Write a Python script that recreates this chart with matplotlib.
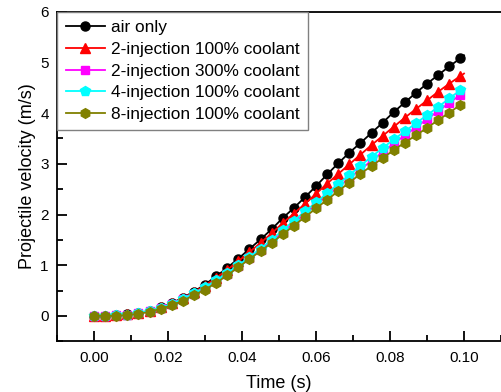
import matplotlib
matplotlib.use("Agg")
import matplotlib.pyplot as plt
from matplotlib.ticker import MultipleLocator, FormatStrFormatter

plt.rcParams['font.family'] = ['Liberation Sans', 'DejaVu Sans']

# time samples (s); markers on every sample except the last one
t = [0.000, 0.003, 0.006, 0.009, 0.012, 0.015, 0.018, 0.021, 0.024, 0.027,
     0.030, 0.033, 0.036, 0.039, 0.042, 0.045, 0.048, 0.051, 0.054, 0.057,
     0.060, 0.063, 0.066, 0.069, 0.072, 0.075, 0.078, 0.081, 0.084, 0.087,
     0.090, 0.093, 0.096, 0.099, 0.100]

v_air = [0.00, 0.00, 0.01, 0.03, 0.06, 0.10, 0.17, 0.25, 0.36, 0.48,
         0.62, 0.78, 0.95, 1.13, 1.32, 1.51, 1.71, 1.93, 2.13, 2.34,
         2.56, 2.79, 3.01, 3.22, 3.41, 3.61, 3.81, 4.02, 4.21, 4.40,
         4.58, 4.75, 4.92, 5.08, 5.14]
v_2inj_100 = [0.00, 0.00, 0.01, 0.03, 0.06, 0.10, 0.17, 0.25, 0.35, 0.47,
              0.60, 0.75, 0.91, 1.08, 1.26, 1.44, 1.63, 1.83, 2.02, 2.21,
              2.41, 2.61, 2.80, 2.99, 3.18, 3.37, 3.55, 3.73, 3.91, 4.08,
              4.25, 4.42, 4.58, 4.73, 4.78]
v_2inj_300 = [0.00, 0.00, 0.01, 0.02, 0.05, 0.10, 0.16, 0.24, 0.33, 0.44,
              0.56, 0.69, 0.83, 0.98, 1.14, 1.30, 1.47, 1.65, 1.83, 2.01,
              2.19, 2.37, 2.54, 2.72, 2.89, 3.06, 3.23, 3.40, 3.56, 3.72,
              3.88, 4.04, 4.20, 4.36, 4.41]
v_4inj_100 = [0.00, 0.00, 0.01, 0.02, 0.05, 0.10, 0.16, 0.24, 0.34, 0.45,
              0.57, 0.70, 0.85, 1.00, 1.16, 1.33, 1.50, 1.69, 1.88, 2.06,
              2.24, 2.42, 2.60, 2.78, 2.96, 3.14, 3.31, 3.48, 3.64, 3.80,
              3.96, 4.12, 4.29, 4.45, 4.50]
v_8inj_100 = [0.00, 0.00, 0.00, 0.02, 0.04, 0.08, 0.14, 0.21, 0.30, 0.41,
              0.52, 0.65, 0.80, 0.96, 1.12, 1.28, 1.44, 1.61, 1.78, 1.95,
              2.12, 2.29, 2.46, 2.63, 2.80, 2.96, 3.11, 3.27, 3.42, 3.56,
              3.71, 3.86, 4.01, 4.16, 4.21]

labels = ["air only", "2-injection 100% coolant", "2-injection 300% coolant",
          "4-injection 100% coolant", "8-injection 100% coolant"]
colors = ["black", "#ff0000", "#ff00ff", "#00ffff", "#808000"]
markers = ["o", "^", "s", "p", "h"]
sizes = [6.5, 7.5, 5.5, 7.5, 7.0]

fig = plt.figure(figsize=(5.01, 3.92), dpi=100)
ax = fig.add_axes([57 / 501, 50.7 / 392, 444 / 501, 329.6 / 392])

every = list(range(len(t) - 1))
for v, lab, c, m, s in zip([v_air, v_2inj_100, v_2inj_300, v_4inj_100, v_8inj_100],
                           labels, colors, markers, sizes):
    ax.plot(t, v, color=c, marker=m, markersize=s, linewidth=1.3,
            markevery=every, label=lab)

ax.set_xlim(-0.01, 0.11)
ax.set_ylim(-0.5, 6)
ax.xaxis.set_major_locator(MultipleLocator(0.02))
ax.xaxis.set_minor_locator(MultipleLocator(0.01))
ax.xaxis.set_major_formatter(FormatStrFormatter("%.2f"))
ax.yaxis.set_major_locator(MultipleLocator(1))
ax.yaxis.set_minor_locator(MultipleLocator(0.5))
ax.tick_params(which="both", direction="in", width=1.3, labelsize=11,
               top=False, right=False)
ax.tick_params(which="major", length=7)
ax.tick_params(axis="x", which="major", pad=7)
ax.tick_params(axis="y", which="major", pad=6)
ax.tick_params(which="minor", length=4)
for side in ["left", "bottom", "top"]:
    ax.spines[side].set_linewidth(1.3)
ax.spines["right"].set_visible(False)

ax.set_xlabel("Time (s)", fontsize=13, labelpad=7)
ax.set_ylabel("Projectile velocity (m/s)", fontsize=13, labelpad=3)

leg = ax.legend(loc="upper left", borderaxespad=0, fontsize=12.4,
                fancybox=False, edgecolor="#808080", framealpha=1,
                handlelength=2.3, handletextpad=0.35, labelspacing=0.38,
                borderpad=0.5)
leg.get_frame().set_linewidth(1.0)

fig.savefig("out.png", dpi=100)
